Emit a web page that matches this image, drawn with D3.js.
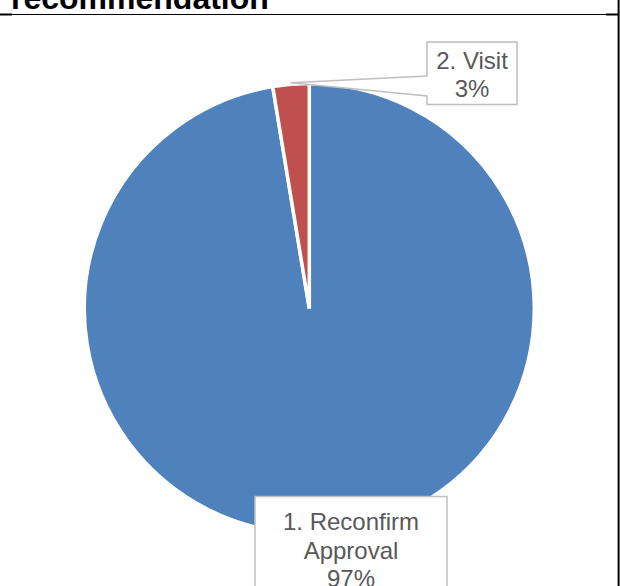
<!DOCTYPE html>
<html>
<head>
<meta charset="utf-8">
<script src="https://cdn.jsdelivr.net/npm/d3@7"></script>
<style>
  html, body { margin: 0; padding: 0; background: #ffffff; }
  svg { display: block; }
</style>
</head>
<body>
<svg id="chart" width="620" height="586"></svg>
<script>
// Share of recommendations by outcome
const categories = ["1. Reconfirm Approval", "2. Visit"];
const shares = [97.4, 2.6];
const sliceColors = ["#4F81BD", "#C0504D"];
const chartTitle = "recommendation";

const W = 620, H = 586;
const svg = d3.select("#chart");
const cx = 309.3, cy = 308.5, R = 225;
const fontFamily = "'Liberation Sans', Arial, Helvetica, sans-serif";

// Title (top line of the title block runs off the frame)
svg.append("text")
  .attr("x", 11).attr("y", 9)
  .attr("font-family", fontFamily)
  .attr("font-weight", "bold")
  .attr("font-size", 32)
  .attr("fill", "#000")
  .text(chartTitle);

// Table-cell frame lines
const frame = svg.append("g").attr("stroke", "#000");
frame.append("line").attr("x1", 0).attr("x2", 619).attr("y1", 14.5).attr("y2", 14.5).attr("stroke-width", 1);
frame.append("line").attr("x1", 0).attr("x2", 12).attr("y1", 14.5).attr("y2", 14.5).attr("stroke-width", 2);
frame.append("line").attr("x1", 606).attr("x2", 619).attr("y1", 14.5).attr("y2", 14.5).attr("stroke-width", 2);
frame.append("line").attr("x1", 618.6).attr("x2", 618.6).attr("y1", 0).attr("y2", H).attr("stroke-width", 2);

// Pie: first slice starts at 12 o'clock, clockwise
const data = categories.map((c, i) => ({ name: c, value: shares[i], color: sliceColors[i] }));
const pie = d3.pie().value(d => d.value).sort(null);
const arcs = pie(data);
const arc = d3.arc().innerRadius(0).outerRadius(R);

const g = svg.append("g").attr("transform", `translate(${cx},${cy})`);
g.selectAll("path.slice")
  .data(arcs)
  .join("path")
  .attr("class", "slice")
  .attr("d", arc)
  .attr("fill", d => d.data.color)
  .attr("stroke", "#fff")
  .attr("stroke-width", 3.5)
  .attr("stroke-linejoin", "miter");

const pct = d3.format(".0f");

// Wrap a category name into lines no wider than maxW
const measure = svg.append("text").attr("font-family", fontFamily).attr("font-size", 24).attr("visibility", "hidden");
function wrap(str, maxW) {
  const words = str.split(" ");
  const lines = [];
  let cur = "";
  words.forEach(w => {
    const test = cur ? cur + " " + w : w;
    measure.text(test);
    if (cur && measure.node().getComputedTextLength() > maxW) { lines.push(cur); cur = w; }
    else cur = test;
  });
  if (cur) lines.push(cur);
  return lines;
}

const labelBox = [
  { x: 255, y: 496.5, w: 192, h: 120, textTop: 33.5, pointer: false },
  { x: 427, y: 42, w: 90, h: 62.5, textTop: 26.5, pointer: true }
];
const lineH = 28.5;

arcs.forEach((a, i) => {
  const b = labelBox[i];
  const lines = wrap(a.data.name, 160).concat([pct(a.data.value) + "%"]);
  const lg = svg.append("g");
  let path;
  if (b.pointer) {
    const mid = (a.startAngle + a.endAngle) / 2;
    const tx = cx + Math.sin(mid) * (R + 1), ty = cy - Math.cos(mid) * (R + 1) - 0.5;
    path = `M${b.x},${b.y}H${b.x + b.w}V${b.y + b.h}H${b.x}V${b.y + 54}L${tx},${ty}L${b.x},${b.y + 34}Z`;
  } else {
    path = `M${b.x},${b.y}H${b.x + b.w}V${b.y + b.h}H${b.x}Z`;
  }
  lg.append("path")
    .attr("d", path)
    .attr("fill", "#fff")
    .attr("stroke", "#bfbfbf")
    .attr("stroke-width", 1.5);
  lg.append("g").selectAll("text")
    .data(lines)
    .join("text")
    .attr("x", b.x + b.w / 2)
    .attr("y", (d, k) => b.y + b.textTop + k * lineH)
    .attr("text-anchor", "middle")
    .attr("font-family", fontFamily)
    .attr("font-size", 24)
    .attr("fill", "#595959")
    .text(d => d);
});
measure.remove();
</script>
</body>
</html>
